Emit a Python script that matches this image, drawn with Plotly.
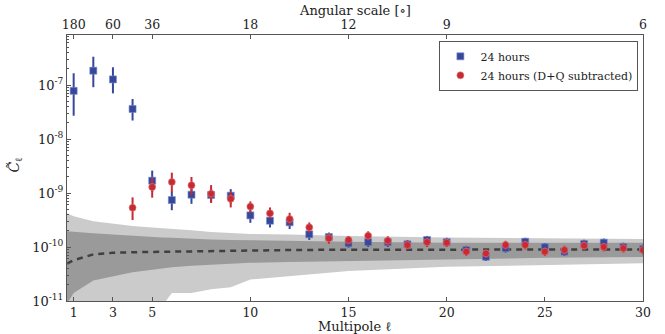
import plotly.graph_objects as go

# ---- data ----
ell_blue = list(range(1, 31))
blue = [7.8e-8, 1.84e-7, 1.27e-7, 3.6e-8, 1.69e-9, 7.4e-10, 9.3e-10, 9.2e-10, 8.9e-10, 3.85e-10,
        3.07e-10, 2.87e-10, 1.72e-10, 1.53e-10, 1.17e-10, 1.23e-10, 1.23e-10, 1.12e-10, 1.35e-10, 1.23e-10,
        8.8e-11, 6.6e-11, 9.5e-11, 1.25e-10, 9.9e-11, 8.2e-11, 1.14e-10, 1.2e-10, 1.0e-10, 9.2e-11]
blue_hi = [1.65e-7, 3.34e-7, 2.13e-7, 5.5e-8, 2.6e-9, 1.06e-9, 1.3e-9, 1.2e-9, 1.18e-9, 4.8e-10,
           3.9e-10, 3.6e-10, 2.1e-10, 1.85e-10, 1.4e-10, 1.5e-10, 1.5e-10, 1.35e-10, 1.6e-10, 1.48e-10,
           1.05e-10, 7.9e-11, 1.14e-10, 1.48e-10, 1.18e-10, 9.8e-11, 1.36e-10, 1.43e-10, 1.2e-10, 1.1e-10]
blue_lo = [2.7e-8, 9.1e-8, 7.0e-8, 2.2e-8, 1.05e-9, 4.8e-10, 6.3e-10, 6.6e-10, 6.4e-10, 2.8e-10,
           2.3e-10, 2.15e-10, 1.35e-10, 1.25e-10, 9.7e-11, 1.0e-10, 1.0e-10, 9.3e-11, 1.12e-10, 1.02e-10,
           7.3e-11, 5.5e-11, 7.9e-11, 1.04e-10, 8.2e-11, 6.8e-11, 9.5e-11, 1.0e-10, 8.3e-11, 7.6e-11]

ell_red = list(range(4, 31))
red = [5.35e-10, 1.29e-9, 1.6e-9, 1.39e-9, 9.7e-10, 7.8e-10, 5.6e-10, 4.2e-10, 3.3e-10, 2.31e-10,
       1.45e-10, 1.35e-10, 1.62e-10, 1.31e-10, 1.09e-10, 1.23e-10, 1.2e-10, 8.2e-11, 7.6e-11, 1.09e-10,
       1.09e-10, 8.2e-11, 8.8e-11, 1.06e-10, 1.0e-10, 9.5e-11, 8.8e-11]
red_hi = [8.3e-10, 1.9e-9, 2.38e-9, 1.98e-9, 1.4e-9, 1.05e-9, 7.0e-10, 5.4e-10, 4.3e-10, 2.85e-10,
          1.75e-10, 1.6e-10, 1.95e-10, 1.58e-10, 1.3e-10, 1.48e-10, 1.42e-10, 9.8e-11, 9.0e-11, 1.3e-10,
          1.3e-10, 9.8e-11, 1.05e-10, 1.26e-10, 1.2e-10, 1.13e-10, 1.05e-10]
red_lo = [3.16e-10, 8.2e-10, 1.03e-9, 9.2e-10, 6.6e-10, 5.4e-10, 4.3e-10, 3.4e-10, 2.6e-10, 1.85e-10,
          1.15e-10, 1.1e-10, 1.32e-10, 1.07e-10, 8.9e-11, 1.0e-10, 1.0e-10, 6.8e-11, 6.3e-11, 9.0e-11,
          9.0e-11, 6.8e-11, 7.3e-11, 8.8e-11, 8.3e-11, 7.9e-11, 7.3e-11]

band_ell = [0.66, 1, 2, 3, 4, 5, 5.5, 6, 7, 8, 9, 10, 12, 15, 20, 25, 30]
light_up = [4.2e-10, 3.7e-10, 3.0e-10, 2.7e-10, 2.45e-10, 2.3e-10, 2.25e-10, 2.2e-10, 2.05e-10, 1.9e-10,
            1.8e-10, 1.75e-10, 1.7e-10, 1.6e-10, 1.5e-10, 1.45e-10, 1.4e-10]
dark_up = [1.95e-10, 1.9e-10, 1.8e-10, 1.7e-10, 1.6e-10, 1.55e-10, 1.5e-10, 1.48e-10, 1.42e-10, 1.38e-10,
           1.35e-10, 1.33e-10, 1.28e-10, 1.25e-10, 1.2e-10, 1.2e-10, 1.2e-10]
median = [4.9e-11, 5.7e-11, 7.3e-11, 7.8e-11, 8.0e-11, 8.1e-11, 8.2e-11, 8.3e-11, 8.4e-11, 8.5e-11,
          8.6e-11, 8.7e-11, 8.8e-11, 8.9e-11, 9.0e-11, 9.0e-11, 9.0e-11]
dark_lo = [9e-12, 1.4e-11, 2.4e-11, 2.9e-11, 3.4e-11, 3.8e-11, 4.0e-11, 4.2e-11, 4.5e-11, 4.7e-11,
           4.9e-11, 5.1e-11, 5.3e-11, 5.5e-11, 6.0e-11, 6.3e-11, 6.5e-11]
light_lo = [8e-12, 8e-12, 8e-12, 8e-12, 8e-12, 8e-12, 8e-12, 1.4e-11, 1.4e-11, 1.65e-11,
            1.8e-11, 2.5e-11, 2.9e-11, 3.6e-11, 4.3e-11, 4.6e-11, 5.0e-11]

bottom_ticks = [1, 3, 5, 10, 15, 20, 25, 30]
top_tickvals = [1, 3, 5, 10, 15, 20, 30]
top_ticktext = ["180", "60", "36", "18", "12", "9", "6"]
y_tickvals = [1e-11, 1e-10, 1e-9, 1e-8, 1e-7]
y_ticktext = ["10<sup>-11</sup>", "10<sup>-10</sup>", "10<sup>-9</sup>", "10<sup>-8</sup>", "10<sup>-7</sup>"]

BLUE = "#37489a"
RED = "#c62a33"
LIGHT = "#cbcbcb"
DARK = "#9a9a9a"
FONT = "DejaVu Serif"
AXC = "#555555"
TXT = "#222222"

fig = go.Figure()
# light band
fig.add_trace(go.Scatter(x=band_ell, y=light_lo, mode="lines", line=dict(width=0), showlegend=False, hoverinfo="skip"))
fig.add_trace(go.Scatter(x=band_ell, y=light_up, mode="lines", line=dict(width=0), fill="tonexty",
                         fillcolor=LIGHT, showlegend=False, hoverinfo="skip"))
# dark band
fig.add_trace(go.Scatter(x=band_ell, y=dark_lo, mode="lines", line=dict(width=0), showlegend=False, hoverinfo="skip"))
fig.add_trace(go.Scatter(x=band_ell, y=dark_up, mode="lines", line=dict(width=0), fill="tonexty",
                         fillcolor=DARK, showlegend=False, hoverinfo="skip"))
# median
fig.add_trace(go.Scatter(x=band_ell, y=median, mode="lines", line=dict(color="#404040", width=2.5, dash="6px,5px"),
                         showlegend=False, hoverinfo="skip"))

fig.add_trace(go.Scatter(
    x=ell_blue, y=blue, mode="markers", name="24 hours",
    marker=dict(symbol="square", size=7, color=BLUE, line=dict(width=1, color="rgba(120,135,200,0.6)")),
    error_y=dict(type="data", symmetric=False,
                 array=[h - v for h, v in zip(blue_hi, blue)],
                 arrayminus=[v - l for v, l in zip(blue, blue_lo)],
                 color=BLUE, thickness=2, width=0)))
fig.add_trace(go.Scatter(
    x=ell_red, y=red, mode="markers", name="24 hours (D+Q subtracted)",
    marker=dict(symbol="circle", size=7, color=RED, line=dict(width=1, color="rgba(230,120,120,0.6)")),
    error_y=dict(type="data", symmetric=False,
                 array=[h - v for h, v in zip(red_hi, red)],
                 arrayminus=[v - l for v, l in zip(red, red_lo)],
                 color=RED, thickness=2, width=0)))
# invisible trace to activate top axis
fig.add_trace(go.Scatter(x=[1, 30], y=[1e-10, 1e-10], xaxis="x2", mode="markers",
                         marker=dict(opacity=0), showlegend=False, hoverinfo="skip"))

xr = [0.66, 30]
fig.update_layout(
    width=665, height=334,
    margin=dict(l=67, r=22, t=35, b=33, autoexpand=False),
    paper_bgcolor="white", plot_bgcolor="white",
    font=dict(family=FONT, size=13, color=TXT),
    showlegend=True,
    legend=dict(x=0.992, xanchor="right", y=0.978, yanchor="top", traceorder="normal",
                bordercolor=AXC, borderwidth=1, bgcolor="white",
                font=dict(family=FONT, size=11, color=TXT),
                tracegroupgap=0),
    xaxis=dict(range=xr, tickvals=bottom_ticks, ticks="inside", ticklen=4, tickcolor=AXC, automargin=False,
               showline=True, linecolor=AXC, linewidth=1, mirror=False, showgrid=False, zeroline=False,
               tickfont=dict(family=FONT, size=12.5)),
    xaxis2=dict(range=xr, overlaying="x", side="top", tickvals=top_tickvals, ticktext=top_ticktext,
                ticks="inside", ticklen=4, tickcolor=AXC, showline=True, linecolor=AXC, linewidth=1,
                showgrid=False, zeroline=False, automargin=False,
                tickfont=dict(family=FONT, size=12.5)),
    yaxis=dict(type="log", range=[-11, -6.074], tickvals=y_tickvals, ticktext=y_ticktext,
               ticks="inside", ticklen=4, tickcolor=AXC, showline=True, linecolor=AXC, linewidth=1,
               mirror=True, showgrid=False, zeroline=False, automargin=False,
               minor=dict(ticks="inside", ticklen=2, tickcolor=AXC, showgrid=False, dtick="D1"),
               tickfont=dict(family=FONT, size=13)),
    annotations=[
        dict(text="<i>C\u0303</i><sub>ℓ</sub>", textangle=-90, xref="paper", yref="paper",
             x=-0.09, y=0.51, xanchor="center", yanchor="middle", showarrow=False,
             font=dict(family=FONT, size=14, color=TXT)),
        dict(text="Multipole ℓ", xref="paper", yref="paper", x=0.5, y=-0.096,
             xanchor="center", yanchor="middle", showarrow=False,
             font=dict(family=FONT, size=13, color=TXT)),
        dict(text="Angular scale [∘]", xref="paper", yref="paper", x=0.5, y=1.093,
             xanchor="center", yanchor="middle", showarrow=False,
             font=dict(family=FONT, size=13, color=TXT)),
    ],
)
fig.write_html("out.html", config={"displayModeBar": False},
               post_script="document.body.style.margin='0';document.body.style.padding='0';")
